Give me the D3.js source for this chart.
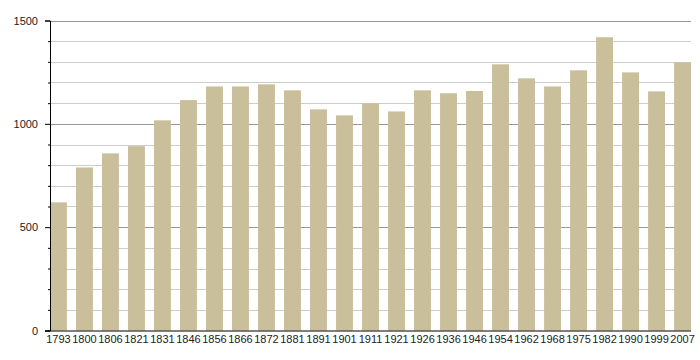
<!DOCTYPE html>
<html>
<head>
<meta charset="utf-8">
<script src="https://cdn.jsdelivr.net/npm/d3@7"></script>
<style>
  body { margin: 0; background: #fff; }
  svg text { font-family: "Liberation Sans", Arial, sans-serif; font-size: 11px; fill: #222; }
</style>
</head>
<body>
<div id="chart"></div>
<script>
// census years and population
const years = ["1793", "1800", "1806", "1821", "1831", "1846", "1856", "1866", "1872", "1881",
  "1891", "1901", "1911", "1921", "1926", "1936", "1946", "1954", "1962", "1968",
  "1975", "1982", "1990", "1999", "2007"];
const population = [620, 789, 857, 892, 1017, 1115, 1181, 1181, 1191, 1162,
  1070, 1041, 1099, 1060, 1162, 1148, 1159, 1288, 1220, 1181,
  1259, 1419, 1249, 1157, 1298];
const majorTicks = [0, 500, 1000, 1500];

function main() {
    const width = 700, height = 360;
    const left = 50, right = 691, top = 20.5, bottom = 330.5;

    const svg = d3.select("#chart").append("svg")
        .attr("width", width)
        .attr("height", height);

    const x = d3.scaleBand().domain(years).range([left, right])
        .paddingInner(0.35).paddingOuter(0).align(0);
    const y = d3.scaleLinear().domain([0, 1500]).range([bottom, top]);

    // grid lines every 100, darker every 500
    const minor = d3.range(100, 1501, 100);
    svg.append("g").selectAll("line")
        .data(minor)
        .enter()
        .append("line")
        .attr("x1", left)
        .attr("x2", right)
        .attr("y1", d => Math.round(y(d)) + 0.5)
        .attr("y2", d => Math.round(y(d)) + 0.5)
        .attr("stroke", d => d % 500 === 0 ? "#999" : "#ccc")
        .attr("stroke-width", 1);

    // bars
    svg.selectAll(".bar")
        .data(years)
        .enter()
        .append("rect")
        .attr("class", "bar")
        .attr("x", d => x(d))
        .attr("y", (d, i) => y(population[i]))
        .attr("width", x.bandwidth())
        .attr("height", (d, i) => y(0) - y(population[i]))
        .attr("fill", "#cabf9b");

    // y axis
    const yAxis = svg.append("g")
        .attr("transform", `translate(${left},0)`)
        .call(d3.axisLeft(y).tickValues(majorTicks).tickSize(5).tickPadding(7).tickFormat(d3.format("d")));
    yAxis.select(".domain").attr("stroke", "#000");
    yAxis.selectAll(".tick line").attr("stroke", "#000");

    const yMinor = svg.append("g")
        .attr("transform", `translate(${left},0)`)
        .call(d3.axisLeft(y).tickValues(minor.filter(d => d % 500 !== 0)).tickSize(2).tickFormat(""));
    yMinor.select(".domain").remove();
    yMinor.selectAll(".tick line").attr("stroke", "#000");

    // x axis
    const xAxis = svg.append("g")
        .attr("transform", `translate(0,${bottom})`)
        .call(d3.axisBottom(x).tickSize(0).tickPadding(5));
    xAxis.select(".domain").attr("stroke", "#000").attr("d", `M${left - 5},0.5H${right}`);
    svg.selectAll("text").style("font-family", "Liberation Sans, Arial, sans-serif").style("font-size", "11px").attr("fill", "#222");
}

main();
</script>
</body>
</html>
